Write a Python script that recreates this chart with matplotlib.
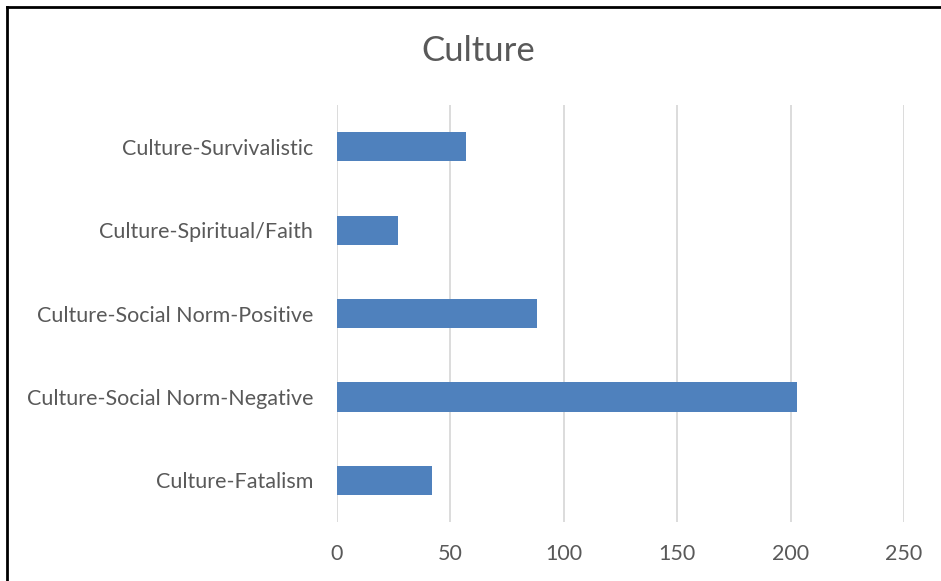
import matplotlib.pyplot as plt
from matplotlib.lines import Line2D

# Category labels (bottom to top) and counts
categories = ['Culture-Fatalism', 'Culture-Social Norm-Negative',
              'Culture-Social Norm-Positive', 'Culture-Spiritual/Faith',
              'Culture-Survivalistic']
counts = [42, 203, 88, 27, 57]
x_ticks = [0, 50, 100, 150, 200, 250]

plt.rcParams['font.family'] = ['Lato', 'DejaVu Sans']

fig = plt.figure(figsize=(9.41, 5.81), dpi=100)
ax = fig.add_axes([0.3581, 0.1015, 0.6026, 0.7177])

ax.barh(range(len(categories)), counts, height=0.35, color='#4f81bd', zorder=3)

ax.set_xlim(0, 250)
ax.set_ylim(-0.5, len(categories) - 0.5)
ax.set_xticks(x_ticks)
ax.set_yticks(range(len(categories)))
ax.set_yticklabels(categories)
ax.xaxis.grid(True, color='#d9d9d9', linewidth=1.3, zorder=0)
ax.tick_params(axis='both', length=0, labelsize=15.5, labelcolor='#595959')
ax.tick_params(axis='x', pad=16)
ax.tick_params(axis='y', pad=17)
for s in ax.spines.values():
    s.set_visible(False)

fig.text(0.508, 0.912, 'Culture', ha='center', va='center', fontsize=25, color='#595959')

# border around the chart (only top and left are visible)
fig.add_artist(Line2D([0.0075, 0.0075], [0, 0.988], transform=fig.transFigure, color='black', linewidth=2))
fig.add_artist(Line2D([0.0075, 1], [0.988, 0.988], transform=fig.transFigure, color='black', linewidth=2))

fig.savefig('out.png', dpi=100)
